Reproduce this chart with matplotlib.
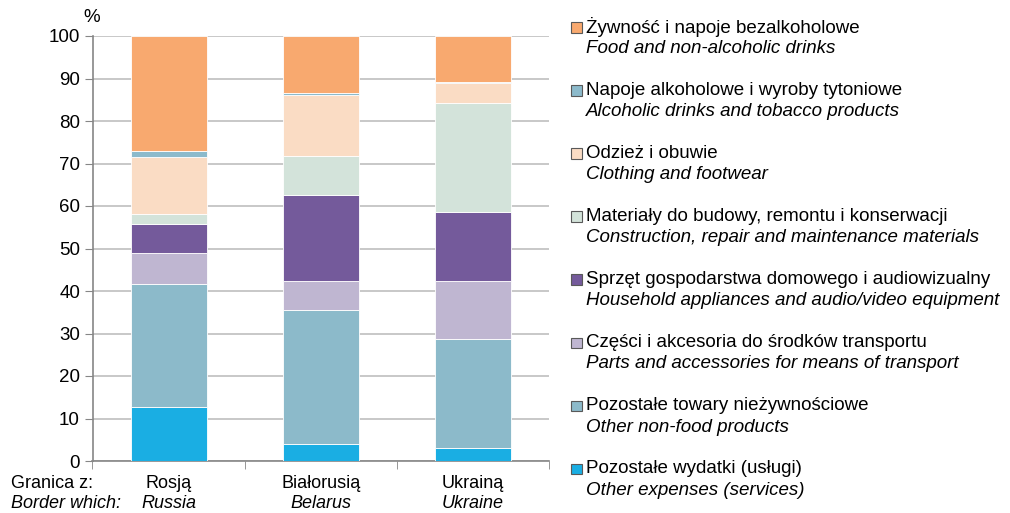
import numpy as np
import matplotlib
matplotlib.use('Agg')
import matplotlib.pyplot as plt
from matplotlib.patches import Rectangle

plt.rcParams['font.family'] = ['Liberation Sans', 'DejaVu Sans']

# categories (borders)
countries_pl = ['Rosją', 'Białorusią', 'Ukrainą']
countries_en = ['Russia', 'Belarus', 'Ukraine']

# series, listed from bottom of the stack to top (values in %)
services = [12.7, 4.0, 3.0]
other_nonfood = [29.0, 31.5, 25.8]
parts = [7.2, 6.9, 13.6]
household = [6.8, 20.1, 16.1]
construction = [2.5, 9.3, 25.7]
clothing = [13.4, 14.4, 4.8]
alcohol = [1.4, 0.5, 0.1]
food = [27.0, 13.3, 10.9]

series = [services, other_nonfood, parts, household, construction, clothing, alcohol, food]
colors = ['#1AAEE3', '#8CBACA', '#BFB6D1', '#745A9B', '#D3E3DA', '#FADCC4', '#8CBACB', '#F8A96F']

labels_pl = ['Pozostałe wydatki (usługi)', 'Pozostałe towary nieżywnościowe',
             'Części i akcesoria do środków transportu', 'Sprzęt gospodarstwa domowego i audiowizualny',
             'Materiały do budowy, remontu i konserwacji', 'Odzież i obuwie',
             'Napoje alkoholowe i wyroby tytoniowe', 'Żywność i napoje bezalkoholowe']
labels_en = ['Other expenses (services)', 'Other non-food products',
             'Parts and accessories for means of transport', 'Household appliances and audio/video equipment',
             'Construction, repair and maintenance materials', 'Clothing and footwear',
             'Alcoholic drinks and tobacco products', 'Food and non-alcoholic drinks']

W, H = 1010, 513
fig = plt.figure(figsize=(W / 100, H / 100), dpi=100)
ax = fig.add_axes([92.5 / W, 1 - 461 / H, 456.5 / W, 425 / H])

x = np.arange(len(countries_pl))
bottom = np.zeros(len(x))
for vals, c in zip(series, colors):
    ax.bar(x, vals, width=0.5, bottom=bottom, color=c, edgecolor='white', linewidth=0.6, zorder=3)
    bottom += np.array(vals)

ax.set_xlim(-0.5, 2.5)
ax.set_ylim(0, 100)
ax.set_yticks(range(0, 101, 10))
ax.yaxis.grid(True, color='#BFBFBF', linewidth=1.2, zorder=0)
ax.tick_params(axis='y', labelsize=13.5, length=6, color='#868686', pad=3)
ax.set_xticks([])
ax.set_xticks([-0.5, 0.5, 1.5, 2.5], minor=True)
ax.tick_params(axis='x', which='minor', length=6, color='#868686', labelbottom=False)
for s in ['top', 'right']:
    ax.spines[s].set_visible(False)
for s in ['left', 'bottom']:
    ax.spines[s].set_color('#868686')
    ax.spines[s].set_linewidth(1.2)

fig.text(92 / W, 1 - 17 / H, '%', fontsize=13.5, ha='center', va='center')

# category labels under the axis
for i in x:
    ax.annotate(countries_pl[i], xy=(i, 0), xycoords=('data', 'axes fraction'),
                xytext=(0, -22 * 0.72), textcoords='offset points',
                ha='center', va='center', fontsize=13)
    ax.annotate(countries_en[i], xy=(i, 0), xycoords=('data', 'axes fraction'),
                xytext=(0, -43 * 0.72), textcoords='offset points',
                ha='center', va='center', fontsize=13, style='italic')
fig.text(11 / W, 1 - 483 / H, 'Granica z:', fontsize=13, ha='left', va='center')
fig.text(11 / W, 1 - 504 / H, 'Border which:', fontsize=13, ha='left', va='center', style='italic')

# legend, top entry = top of stack
for k in range(len(series)):
    j = len(series) - 1 - k
    yc = 27 + k * 63.1
    fig.patches.append(Rectangle((571 / W, 1 - (yc + 5.5) / H), 10.5 / W, 10.5 / H,
                                 transform=fig.transFigure, facecolor=colors[j],
                                 edgecolor='#595959', linewidth=0.8))
    fig.text(586 / W, 1 - yc / H, labels_pl[j], fontsize=13.5, ha='left', va='center')
    fig.text(586 / W, 1 - (yc + 21.5) / H, labels_en[j], fontsize=13.5, ha='left', va='center', style='italic')

fig.savefig('out.png', dpi=100)
